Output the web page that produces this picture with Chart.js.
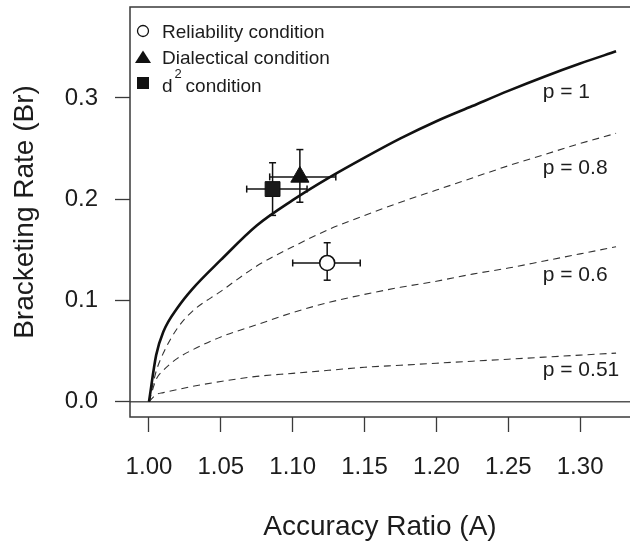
<!DOCTYPE html>
<html>
<head>
<meta charset="utf-8">
<script src="https://cdn.jsdelivr.net/npm/chart.js@4.4.1/dist/chart.umd.min.js"></script>
<style>
  html, body { margin: 0; padding: 0; background: #fff; }
  canvas { display: block; }
</style>
</head>
<body>
<canvas id="chart" width="630" height="544"></canvas>
<script>
"use strict";
///////////////////////////////
//Data
const ratio = [1.000, 1.005, 1.01, 1.02, 1.03, 1.05, 1.075, 1.10, 1.125, 1.15, 1.175, 1.20, 1.225, 1.25, 1.275, 1.30, 1.325];
const brP100 = [0, 0.046, 0.069, 0.093, 0.111, 0.140, 0.174, 0.199, 0.221, 0.241, 0.260, 0.277, 0.292, 0.307, 0.321, 0.334, 0.346];
const brP080 = [0, 0.030, 0.048, 0.073, 0.089, 0.109, 0.134, 0.153, 0.170, 0.184, 0.197, 0.209, 0.221, 0.233, 0.244, 0.255, 0.265];
const brP060 = [0, 0.022, 0.031, 0.043, 0.051, 0.064, 0.076, 0.088, 0.098, 0.106, 0.113, 0.119, 0.126, 0.132, 0.139, 0.146, 0.153];
const brP051 = [0, 0.007, 0.009, 0.012, 0.015, 0.020, 0.025, 0.028, 0.031, 0.034, 0.036, 0.038, 0.040, 0.042, 0.044, 0.046, 0.048];

const condNames = ["Reliability condition", "Dialectical condition", "d2 condition"];
const condA = [1.124, 1.105, 1.086];
const condALo = [1.100, 1.084, 1.068];
const condAHi = [1.147, 1.130, 1.110];
const condBr = [0.137, 0.222, 0.210];
const condBrLo = [0.120, 0.197, 0.184];
const condBrHi = [0.157, 0.249, 0.236];

const pLabels = ["p = 1", "p = 0.8", "p = 0.6", "p = 0.51"];
const pLabelA = [1.274, 1.274, 1.274, 1.274];
const pLabelBr = [0.300, 0.225, 0.119, 0.025];

const xTicks = [1.00, 1.05, 1.10, 1.15, 1.20, 1.25, 1.30];
const yTicks = [0.0, 0.1, 0.2, 0.3];
const xMin = 0.9868, xMax = 1.3347;
const yMin = -0.0151, yMax = 0.3898;

//////////////////////////////
//Style
const FONT = "'Liberation Sans', Arial, Helvetica, sans-serif";
const INK = "#1c1c1c";
const AXIS = "#3a3a3a";

const toPoints = function (xs, ys) {
  return xs.map((x, i) => ({ x: x, y: ys[i] }));
};

const curve = function (ys, solid) {
  return {
    data: toPoints(ratio, ys),
    showLine: true,
    borderColor: solid ? "#111" : "#333",
    borderWidth: solid ? 2.6 : 1.1,
    borderDash: solid ? [] : [7, 5],
    pointRadius: 0,
    cubicInterpolationMode: "monotone",
    fill: false,
  };
};

// error bars: line between two points, caps drawn as "line" point style
let errorBars = [];
for (let i = 0; i < condA.length; i++) {
  errorBars.push({
    data: [{ x: condA[i], y: condBrLo[i] }, { x: condA[i], y: condBrHi[i] }],
    showLine: true,
    borderColor: "#111",
    borderWidth: 1.5,
    pointStyle: "line",
    pointRadius: 3.5,
    pointBorderWidth: 1.5,
    pointBorderColor: "#111",
    pointRotation: 0,
  });
  errorBars.push({
    data: [{ x: condALo[i], y: condBr[i] }, { x: condAHi[i], y: condBr[i] }],
    showLine: true,
    borderColor: "#111",
    borderWidth: 1.5,
    pointStyle: "line",
    pointRadius: 3.5,
    pointBorderWidth: 1.5,
    pointBorderColor: "#111",
    pointRotation: 90,
  });
}

// first dataset is drawn on top
const datasets = [
  {
    data: toPoints(condA, condBr),
    pointStyle: ["circle", "triangle", "rect"],
    pointRadius: [7.5, 10.5, 10.5],
    pointBackgroundColor: ["#fff", "#111", "#1a1a1a"],
    pointBorderColor: "#111",
    pointBorderWidth: [1.6, 1, 1],
    showLine: false,
  },
  ...errorBars,
  curve(brP100, true),
  curve(brP080, false),
  curve(brP060, false),
  curve(brP051, false),
  {
    data: [{ x: xMin, y: 0 }, { x: xMax, y: 0 }],
    showLine: true,
    borderColor: "#555",
    borderWidth: 1.5,
    pointRadius: 0,
  },
];

// no extra label padding, the box sits where the layout says
const noPad = function (s) {
  s.paddingTop = 0;
  s.paddingBottom = 0;
  s.paddingLeft = 0;
  s.paddingRight = 0;
};

//////////////////////////////
//Plugin: box, curve labels, legend
const extras = {
  id: "extras",
  afterDraw(chart) {
    const ctx = chart.ctx;
    const a = chart.chartArea;
    const xs = chart.scales.x;
    const ys = chart.scales.y;
    ctx.save();

    // box
    ctx.strokeStyle = AXIS;
    ctx.lineWidth = 1.5;
    ctx.strokeRect(a.left, a.top, a.right - a.left + 2, a.bottom - a.top);

    // p labels
    ctx.fillStyle = INK;
    ctx.font = "21px " + FONT;
    ctx.textAlign = "left";
    ctx.textBaseline = "alphabetic";
    pLabels.forEach((t, i) => {
      ctx.fillText(t, xs.getPixelForValue(pLabelA[i]), ys.getPixelForValue(pLabelBr[i]));
    });

    // legend
    const mx = a.left + 13;
    const tx = a.left + 32;
    const rows = [a.top + 24, a.top + 50, a.top + 76];
    ctx.font = "19px " + FONT;

    // circle
    ctx.beginPath();
    ctx.arc(mx, rows[0], 5.5, 0, Math.PI * 2);
    ctx.fillStyle = "#fff";
    ctx.fill();
    ctx.lineWidth = 1.3;
    ctx.strokeStyle = "#111";
    ctx.stroke();
    // triangle
    ctx.beginPath();
    ctx.moveTo(mx, rows[1] - 6.5);
    ctx.lineTo(mx + 8, rows[1] + 6);
    ctx.lineTo(mx - 8, rows[1] + 6);
    ctx.closePath();
    ctx.fillStyle = "#111";
    ctx.fill();
    // square
    ctx.fillRect(mx - 6, rows[2] - 6, 12, 12);

    ctx.fillStyle = INK;
    ctx.textBaseline = "alphabetic";
    ctx.fillText(condNames[0], tx, rows[0] + 7);
    ctx.fillText(condNames[1], tx, rows[1] + 7);
    ctx.fillText("d", tx, rows[2] + 9);
    const dw = ctx.measureText("d").width;
    ctx.font = "13px " + FONT;
    ctx.fillText("2", tx + dw + 2, rows[2] - 5);
    ctx.font = "19px " + FONT;
    ctx.fillText("condition", tx + dw + 13, rows[2] + 9);

    ctx.restore();
  },
};

//////////////////////////////
//Chart
const chart = new Chart(document.getElementById("chart"), {
  type: "scatter",
  data: { datasets: datasets },
  options: {
    responsive: false,
    animation: false,
    devicePixelRatio: 1,
    layout: { autoPadding: false, padding: { top: 7, right: 0, bottom: 0, left: 0 } },
    plugins: {
      legend: { display: false },
      tooltip: { enabled: false },
    },
    scales: {
      x: {
        type: "linear",
        min: xMin,
        max: xMax,
        afterBuildTicks: (s) => {
          s.ticks = xTicks.map((v) => ({ value: v }));
        },
        afterFit: (s) => {
          s.height = 127;
          noPad(s);
        },
        ticks: {
          autoSkip: false,
          maxRotation: 0,
          padding: 21,
          color: INK,
          font: { family: FONT, size: 24 },
          callback: (v) => Number(v).toFixed(2),
        },
        grid: {
          drawOnChartArea: false,
          drawTicks: true,
          tickLength: 15,
          tickColor: AXIS,
          tickWidth: 1.3,
        },
        border: { display: false },
        title: {
          display: true,
          text: "Accuracy Ratio (A)",
          color: INK,
          font: { family: FONT, size: 28 },
          padding: { top: 0, bottom: 0 },
        },
      },
      y: {
        type: "linear",
        min: yMin,
        max: yMax,
        afterBuildTicks: (s) => {
          s.ticks = yTicks.map((v) => ({ value: v }));
        },
        afterFit: (s) => {
          s.width = 130;
          noPad(s);
        },
        ticks: {
          autoSkip: false,
          padding: 17,
          color: INK,
          font: { family: FONT, size: 24 },
          callback: (v) => Number(v).toFixed(1),
        },
        grid: {
          drawOnChartArea: false,
          drawTicks: true,
          tickLength: 15,
          tickColor: AXIS,
          tickWidth: 1.3,
        },
        border: { display: false },
        title: {
          display: true,
          text: "Bracketing Rate (Br)",
          color: INK,
          font: { family: FONT, size: 28 },
          padding: { top: 8, bottom: 0 },
        },
      },
    },
  },
  plugins: [extras],
});
</script>
</body>
</html>
